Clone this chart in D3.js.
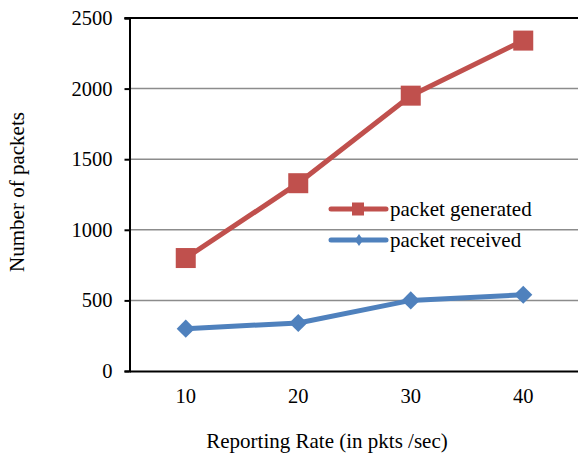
<!DOCTYPE html>
<html><head><meta charset="utf-8">
<script src="https://cdn.jsdelivr.net/npm/d3@7"></script>
<style>
html,body{margin:0;padding:0;background:#fff;}
text{font-family:"Liberation Serif","Times New Roman",serif;fill:#000;}
</style></head>
<body>
<svg id="chart" width="578" height="459"></svg>
<script>
const categories = ["10","20","30","40"];
const generated = [800, 1330, 1950, 2340];
const received = [300, 340, 500, 540];
const yTicks = [0, 500, 1000, 1500, 2000, 2500];
const seriesNames = ["packet generated", "packet received"];
const colors = ["#C0504D", "#4F81BD"];

(function () {
const svg = d3.select("#chart");
const mL = 129.5, mR = 579.5, mT = 18, mB = 371;
const serif = '"Liberation Serif","Times New Roman",serif';

const x = d3.scaleBand().domain(categories).range([mL, mR]);
const y = d3.scaleLinear().domain([0, 2500]).range([mB, mT]);

// gridlines
svg.append("g").selectAll("line").data(yTicks.filter(d => d > 0 && d < 2500)).join("line")
  .attr("x1", mL).attr("x2", 578).attr("y1", d => y(d)).attr("y2", d => y(d))
  .attr("stroke", "#8c8c8c").attr("stroke-width", 1.5);
// top border
svg.append("line").attr("x1", mL - 5).attr("x2", 578).attr("y1", y(2500)).attr("y2", y(2500))
  .attr("stroke", "#000").attr("stroke-width", 2);

// y axis
const yAxis = svg.append("g").attr("transform", `translate(${mL},0)`)
  .call(d3.axisLeft(y).tickValues(yTicks).tickSize(5).tickPadding(12).tickFormat(d3.format("d")));
yAxis.select(".domain").attr("stroke", "#000").attr("stroke-width", 2);
yAxis.selectAll(".tick line").attr("stroke", "#000").attr("stroke-width", 2);
yAxis.selectAll("text").attr("font-size", 20.5).style("font-family", serif);

// x axis
const xAxis = svg.append("g").attr("transform", `translate(0,${mB})`)
  .call(d3.axisBottom(x).tickSize(0).tickPadding(17));
xAxis.select(".domain").attr("stroke", "#000").attr("stroke-width", 2);
xAxis.selectAll("text").attr("font-size", 20.5).style("font-family", serif);

// lines
const line = d3.line().x((d, i) => x(categories[i]) + x.bandwidth() / 2).y(d => y(d));
[generated, received].forEach((s, k) => {
  svg.append("path").datum(s).attr("d", line).attr("fill", "none")
    .attr("stroke", colors[k]).attr("stroke-width", 5).attr("stroke-linejoin", "round");
});
// markers
svg.append("g").selectAll("rect").data(generated).join("rect")
  .attr("x", (d, i) => x(categories[i]) + x.bandwidth() / 2 - 10)
  .attr("y", d => y(d) - 10).attr("width", 20).attr("height", 20)
  .attr("fill", colors[0]);
const diamond = d3.symbol().type(d3.symbolDiamond2).size(210);
svg.append("g").selectAll("path").data(received).join("path")
  .attr("d", diamond)
  .attr("transform", (d, i) => `translate(${x(categories[i]) + x.bandwidth() / 2},${y(d)})`)
  .attr("fill", colors[1]);

// legend
const lg = svg.append("g");
const legY = [209, 240];
seriesNames.forEach((n, k) => {
  lg.append("line").attr("x1", 331).attr("x2", 386).attr("y1", legY[k]).attr("y2", legY[k])
    .attr("stroke", colors[k]).attr("stroke-width", 5).attr("stroke-linecap", "round");
  if (k === 0) {
    lg.append("rect").attr("x", 352).attr("y", legY[k] - 6.5).attr("width", 12).attr("height", 13).attr("fill", colors[k]);
  } else {
    lg.append("path").attr("d", d3.symbol().type(d3.symbolDiamond2).size(70)())
      .attr("transform", `translate(359,${legY[k]}) scale(0.8,1.15)`).attr("fill", colors[k]);
  }
  lg.append("text").attr("x", 390).attr("y", legY[k]).attr("dy", "0.35em")
    .attr("font-size", 21).style("font-family", serif).text(n);
});

// axis titles
svg.append("text").attr("transform", "translate(24,192) rotate(-90)")
  .attr("text-anchor", "middle").attr("font-size", 21).style("font-family", serif).text("Number of packets");
svg.append("text").attr("x", 327).attr("y", 448).attr("text-anchor", "middle")
  .attr("font-size", 21).style("font-family", serif).text("Reporting Rate (in pkts /sec)");
})();
</script>
</body></html>
